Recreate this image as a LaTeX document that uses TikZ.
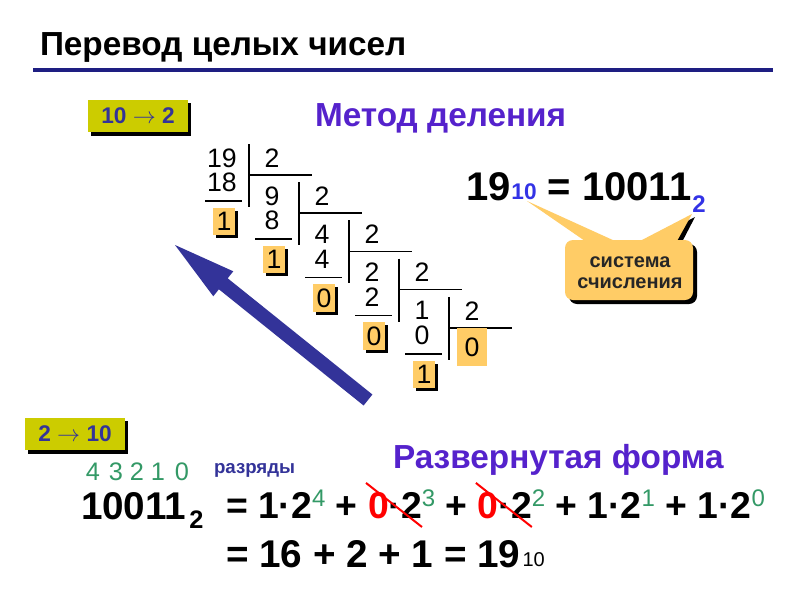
\documentclass[tikz,border=0pt]{standalone}
\usepackage{fontspec}
\setmainfont{Liberation Sans}
\usetikzlibrary{shadows,calc}
\definecolor{navyline}{RGB}{30,30,130}
\definecolor{boxy}{RGB}{204,204,0}
\definecolor{dbluec}{RGB}{51,51,153}
\definecolor{metodc}{RGB}{85,34,204}
\definecolor{orangec}{RGB}{255,204,102}
\definecolor{subbluec}{RGB}{51,51,230}
\definecolor{greenc}{RGB}{51,153,102}
\definecolor{redc}{RGB}{255,0,0}
\newcommand{\myfs}[1]{\fontsize{#1}{#1}\selectfont}
\begin{document}
\begin{tikzpicture}[x=0.75pt,y=-0.75pt,
  tok/.style={anchor=base west, inner sep=0pt, outer sep=0pt},
  bigb/.style={tok, font=\bfseries\myfs{29}},
  formb/.style={tok, font=\bfseries\myfs{28}},
  supg/.style={tok, font=\myfs{18}, text=greenc},
  digit/.style={inner sep=0pt, font=\myfs{20}},
  divline/.style={line width=1.2pt, black},
  remb/.style={fill=orangec, minimum width=16.5pt, minimum height=20.5pt, inner sep=0pt, font=\myfs{20},
    drop shadow={shadow xshift=2.25pt, shadow yshift=-2.25pt, fill=black, opacity=1}},
  ybox/.style={fill=boxy, text=dbluec, font=\bfseries\myfs{17}, inner sep=0pt, minimum width=75pt, minimum height=24.5pt,
    drop shadow={shadow xshift=2.5pt, shadow yshift=-2.5pt, fill=black, opacity=1}},
  headc/.style={tok, font=\bfseries\myfs{25}, text=metodc}
]
\fill[white] (0,0) rectangle (800,600);
\useasboundingbox (0,0) rectangle (800,600);

% title
\node[tok, font=\bfseries\myfs{25}] (title) at (40,55) {Перевод целых чисел};
\draw[navyline, line width=3pt] (33,70) -- (773,70);

% top section
\node[ybox] (b1) at (138,116) {10 $\rightarrow$ 2};
\node[headc] (metod) at (315,126) {Метод деления};

% division ladder
\foreach \k/\va/\vb/\vc in {0/19/18/1, 1/9/8/1, 2/4/4/0, 3/2/2/0, 4/1/0/1} {
  \pgfmathsetmacro\cx{222+50*\k}
  \pgfmathsetmacro\cy{158+38.2*\k}
  \pgfmathsetmacro\bx{249+50*\k}
  \draw[divline] (\cx-17,\cy+43) -- (\cx+20,\cy+43);
  \draw[divline] (\bx,\cy-14) -- (\bx,\cy+49);
  \draw[divline] (\bx,\cy+17) -- (\bx+63,\cy+17);
  \node[digit] (dv\k) at (\cx,\cy) {\va};
  \node[digit] (sb\k) at (\cx,\cy+24.5) {\vb};
  \node[digit] (ds\k) at (\bx+23,\cy) {2};
  \node[remb] (rm\k) at (\cx+2,\cy+63.5) {\vc};
}
\node[fill=orangec, minimum width=22.5pt, minimum height=28pt, inner sep=0pt, font=\myfs{20}] (q) at (472,347) {0};

% big arrow
\fill[dbluec] (372.4,394.5) -- (227.7,278.3) -- (233.3,271.3) -- (175,245) -- (213.3,296.3) -- (218.9,289.3) -- (363.6,405.5) -- cycle;

% 19_10 = 10011_2
\node[tok, font=\bfseries\myfs{30}] (n19) at (466,200) {19};
\node[tok, font=\bfseries\myfs{17}, text=subbluec] (s10) at ($(n19.base east)+(1,-1)$) {10};
\node[tok, font=\bfseries\myfs{30}] (eq1) at ($(s10.base east)+(0,1)$) {\ = 10011};
\node[tok, font=\bfseries\myfs{18}, text=subbluec] (s2) at ($(eq1.base east)+(1,12)$) {2};

% callout
\fill[black, rounded corners=6pt] (569,244) rectangle (697,304);
\fill[black] (695,217) -- (643,244) -- (681,244) -- cycle;
\fill[orangec, rounded corners=6pt] (565,240) rectangle (693,300);
\fill[orangec] (527,201) -- (585,241) -- (615,241) -- cycle;
\fill[orangec] (692,214) -- (640,241) -- (677,241) -- cycle;
\node[anchor=base, inner sep=0pt, font=\bfseries\myfs{15}, text=black!85] (sys1) at (630,267) {система};
\node[anchor=base, inner sep=0pt, font=\bfseries\myfs{15}, text=black!85] (sys2) at (630,288) {счисления};

% bottom section
\node[ybox] (b2) at (75,434) {2 $\rightarrow$ 10};
\foreach \d/\xx in {4/93, 3/116, 2/137, 1/158, 0/182} {
  \node[anchor=base, inner sep=0pt, font=\myfs{19}, text=greenc] (g\d) at (\xx,480) {\d};
}
\node[tok, font=\bfseries\myfs{14}, text=dbluec] (razr) at (214,473) {разряды};
\node[headc] (razv) at (393,468) {Развернутая форма};

\node[bigb] (num) at (81,519) {10011};
\node[tok, font=\bfseries\myfs{19}] (num2) at ($(num.base east)+(3,9)$) {2};

\node[formb] (f1) at (226,518) {= 1·2};
\node[supg] (p1) at ($(f1.base east)+(0,-12)$) {4};
\node[formb] (f2) at ($(p1.base east)+(0,12)$) {\ +\ \null};
\node[formb, text=redc] (z1) at (f2.base east) {0};
\node[formb] (f3) at (z1.base east) {·2};
\node[supg] (p2) at ($(f3.base east)+(0,-12)$) {3};
\node[formb] (f4) at ($(p2.base east)+(0,12)$) {\ +\ \null};
\node[formb, text=redc] (z2) at (f4.base east) {0};
\node[formb] (f5) at (z2.base east) {·2};
\node[supg] (p3) at ($(f5.base east)+(0,-12)$) {2};
\node[formb] (f6) at ($(p3.base east)+(0,12)$) {\ + 1·2};
\node[supg] (p4) at ($(f6.base east)+(0,-12)$) {1};
\node[formb] (f7) at ($(p4.base east)+(0,12)$) {\ + 1·2};
\node[supg] (p5) at ($(f7.base east)+(0,-12)$) {0};
\draw[redc, line width=1.5pt] ($(z1.north west)+(-2,-9)$) -- ($(f3.south east)+(0,9)$);
\draw[redc, line width=1.5pt] ($(z2.north west)+(-2,-9)$) -- ($(f5.south east)+(0,9)$);

\node[bigb] (r2) at (226,567) {= 16 + 2 + 1 = 19};
\node[tok, font=\myfs{15}] (r2s) at ($(r2.base east)+(2,-1)$) {10};
\end{tikzpicture}
\end{document}
